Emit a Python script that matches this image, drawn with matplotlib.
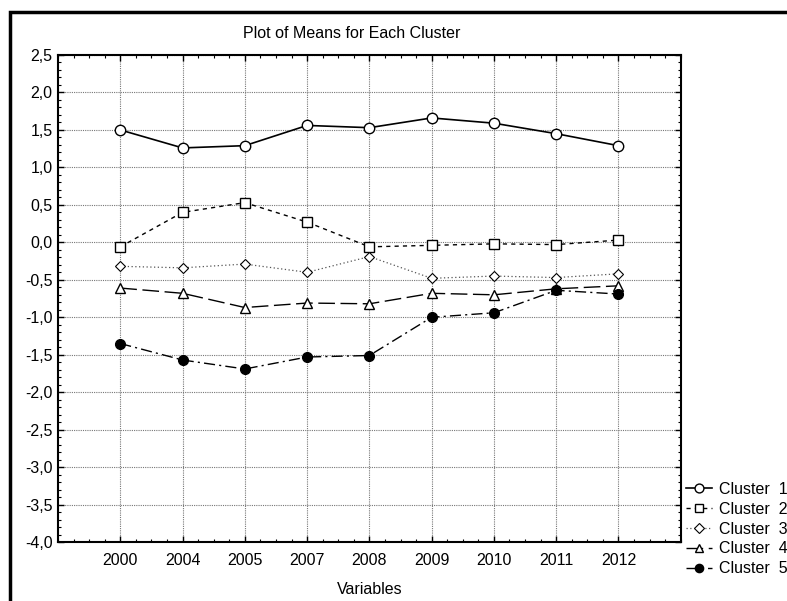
import matplotlib
matplotlib.use("Agg")
import matplotlib.pyplot as plt
from matplotlib.ticker import MultipleLocator, FuncFormatter
from matplotlib.patches import Rectangle

plt.rcParams['font.family'] = ['Liberation Sans', 'DejaVu Sans']

years = ['2000', '2004', '2005', '2007', '2008', '2009', '2010', '2011', '2012']
cluster1 = [1.50, 1.26, 1.29, 1.56, 1.53, 1.66, 1.59, 1.45, 1.29]
cluster2 = [-0.06, 0.40, 0.53, 0.27, -0.06, -0.04, -0.02, -0.03, 0.03]
cluster3 = [-0.32, -0.34, -0.29, -0.40, -0.19, -0.48, -0.45, -0.47, -0.42]
cluster4 = [-0.61, -0.68, -0.87, -0.81, -0.82, -0.68, -0.70, -0.62, -0.58]
cluster5 = [-1.35, -1.57, -1.69, -1.53, -1.51, -1.00, -0.94, -0.64, -0.69]

fig = plt.figure(figsize=(7.87, 6.01), dpi=100)
ax = fig.add_axes([0.0737, 0.098, 0.7913, 0.8105])

x = list(range(1, len(years) + 1))

ax.plot(x, cluster1, color='black', lw=1.2, ls='-', marker='o', ms=7.5,
        mfc='white', mec='black', mew=1.0, label='Cluster  1')
ax.plot(x, cluster2, color='black', lw=1.0, ls=(0, (3, 3)), marker='s', ms=7.5,
        mfc='white', mec='black', mew=1.0, label='Cluster  2')
ax.plot(x, cluster3, color='#555555', lw=0.9, ls=(0, (1, 2)), marker='D', ms=5.5,
        mfc='white', mec='black', mew=0.8, label='Cluster  3')
ax.plot(x, cluster4, color='black', lw=1.0, ls=(0, (12, 4)), marker='^', ms=6.5,
        mfc='white', mec='black', mew=1.0, label='Cluster  4')
ax.plot(x, cluster5, color='black', lw=1.0, ls=(0, (8, 3, 1.5, 3)), marker='o', ms=7,
        mfc='black', mec='black', label='Cluster  5')

ax.set_xlim(0, 10)
ax.set_ylim(-4.0, 2.5)
ax.set_xticks(x)
ax.set_xticklabels(years)
ax.xaxis.set_minor_locator(MultipleLocator(0.25))
ax.yaxis.set_major_locator(MultipleLocator(0.5))
ax.yaxis.set_minor_locator(MultipleLocator(0.1))
ax.yaxis.set_major_formatter(FuncFormatter(lambda v, p: f"{v:.1f}".replace('.', ',')))

fs = 11.5
ax.tick_params(which='both', direction='in', top=True, right=True, labelsize=fs)
ax.tick_params(which='major', length=4, width=1)
ax.tick_params(which='minor', length=2.5, width=0.8)
ax.tick_params(axis='x', which='major', pad=8)
ax.tick_params(axis='y', which='major', pad=4)
ax.grid(True, which='major', color='#777777', ls=(0, (1, 1)), lw=0.8)
for s in ax.spines.values():
    s.set_linewidth(1.5)

ax.set_xlabel('Variables', fontsize=fs, labelpad=10)
fig.text(352 / 787, 1 - 33 / 601, 'Plot of Means for Each Cluster', fontsize=fs,
         ha='center', va='center')

ax.legend(loc='upper left', bbox_to_anchor=(686 / 787, 1 - 482 / 601),
          bbox_transform=fig.transFigure, frameon=False, fontsize=fs,
          handlelength=1.6, handletextpad=0.45, labelspacing=0.3,
          borderaxespad=0, borderpad=0, numpoints=1, markerscale=0.85)

fig.patches.append(Rectangle((10 / 787, -0.1), 1.2, 1 - 12 / 601 + 0.1,
                             transform=fig.transFigure, fill=False,
                             edgecolor='black', lw=2.5))

fig.savefig('out.png', dpi=100)
